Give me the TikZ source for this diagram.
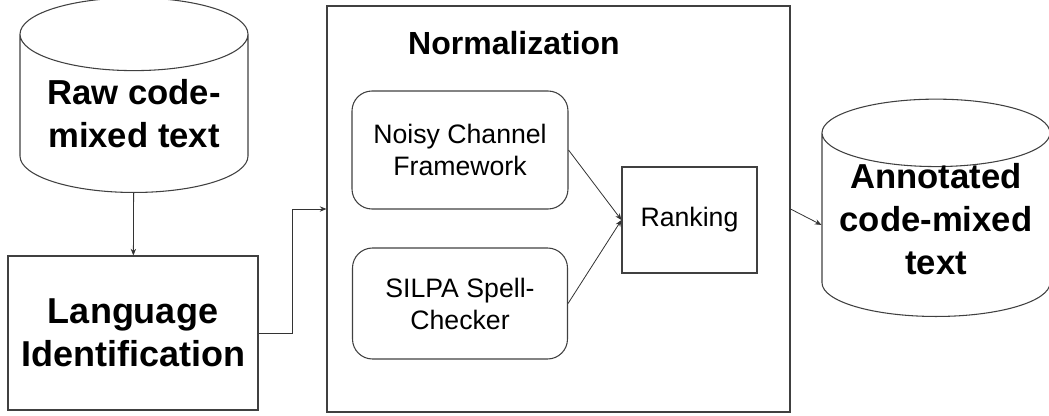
\documentclass[tikz,border=0pt]{standalone}
\usepackage{fontspec}
\setmainfont{Liberation Sans}
\usetikzlibrary{arrows.meta,shapes.geometric}

\begin{document}
\begin{tikzpicture}[x=0.75pt,y=-0.75pt,
  db/.style={draw=black!75,line width=0.8pt,cylinder,shape border rotate=90,
    aspect=0.42,align=center,inner sep=0pt,anchor=south,
    font=\fontsize{26}{32}\selectfont\bfseries},
  box/.style={draw=black!75,line width=0.8pt,align=center,inner sep=0pt},
  sub/.style={box,rounded corners=15pt,font=\fontsize{20}{24}\selectfont},
  arr/.style={-{Stealth[length=5pt,width=4pt]},black!80,line width=0.6pt}]
\useasboundingbox (0,0) rectangle (1049,415);
\node[db,minimum width=171pt,minimum height=146pt] (raw) at (134,193) {Raw code-\\mixed text};
\node[box,minimum width=187.5pt,minimum height=115.5pt,
  font=\fontsize{27}{32}\selectfont\bfseries] (lang) at (133,333) {Language\\Identification};
\node[box,minimum width=347.25pt,minimum height=304.5pt] (norm) at (558.5,209) {};
\node[font=\fontsize{24}{28}\selectfont\bfseries] (title) at (514,43) {Normalization};
\node[sub,minimum width=162pt,minimum height=88.5pt] (noisy) at (460,150) {Noisy Channel\\Framework};
\node[sub,minimum width=161.25pt,minimum height=83.25pt] (silpa) at (460,303.5) {SILPA Spell-\\Checker};
\node[box,minimum width=101.25pt,minimum height=79.5pt,
  font=\fontsize{20}{24}\selectfont] (rank) at (689.5,220) {Ranking};
\node[db,aspect=0.35,inner ysep=-12pt,minimum width=171pt,minimum height=163pt] (ann) at (936,317)
  {Annotated\\code-mixed\\text\rule[-9pt]{0pt}{0pt}};
\draw[arr] (raw) -- (lang);
\draw[arr] (lang.east) -- ++(34,0) |- (norm.west);
\draw[arr] (noisy.east) -- (rank.west);
\draw[arr] (silpa.east) -- (rank.west);
\draw[arr] (norm.east) -- (ann.west);
\end{tikzpicture}
\end{document}
